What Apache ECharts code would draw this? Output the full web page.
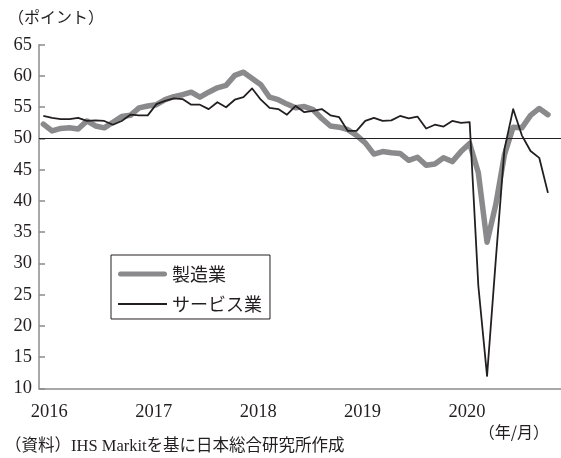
<!DOCTYPE html>
<html>
<head>
<meta charset="utf-8">
<script src="https://cdn.jsdelivr.net/npm/echarts@6/dist/echarts.min.js"></script>
<style>
html, body { margin: 0; padding: 0; background: #fff; }
#chart { width: 561px; height: 458px; }
</style>
</head>
<body>
<div id="chart"></div>
<script>
// 月次カテゴリ（2016/1〜2020/12）
var years = [2016, 2017, 2018, 2019, 2020];
var months = [];
years.forEach(function (y) {
  for (var m = 1; m <= 12; m++) months.push(y + '/' + m);
});

// 製造業（2016/1〜2020/11）
var seizogyo = [
  52.3, 51.2, 51.6, 51.7, 51.5, 52.8, 52.0, 51.7, 52.6, 53.5, 53.7, 54.9,
  55.2, 55.4, 56.2, 56.7, 57.0, 57.4, 56.6, 57.4, 58.1, 58.5, 60.1, 60.6,
  59.6, 58.6, 56.6, 56.2, 55.5, 54.9, 55.1, 54.6, 53.2, 52.0, 51.8, 51.4,
  50.5, 49.3, 47.5, 47.9, 47.7, 47.6, 46.5, 47.0, 45.7, 45.9, 46.9, 46.3,
  47.9, 49.2, 44.5, 33.4, 39.4, 47.4, 51.8, 51.7, 53.7, 54.8, 53.8
];

// サービス業（2016/1〜2020/11）
var service = [
  53.6, 53.3, 53.1, 53.1, 53.3, 52.8, 52.9, 52.8, 52.2, 52.8, 53.8, 53.7,
  53.7, 55.5, 56.0, 56.4, 56.3, 55.4, 55.4, 54.7, 55.8, 55.0, 56.2, 56.6,
  58.0, 56.2, 54.9, 54.7, 53.8, 55.2, 54.2, 54.4, 54.7, 53.7, 53.4, 51.2,
  51.2, 52.8, 53.3, 52.8, 52.9, 53.6, 53.2, 53.5, 51.6, 52.2, 51.9, 52.8,
  52.5, 52.6, 26.4, 12.0, 30.5, 48.3, 54.7, 50.5, 48.0, 46.9, 41.3
];

var ink = '#231f20';
var axisGray = '#8c8c8c';
var serif = '"Liberation Serif", "Noto Sans CJK JP", serif';

var yearStart = function (i) { return i % 12 === 0; };

var chart = echarts.init(document.getElementById('chart'));

var option = {
  animation: false,
  grid: { left: 39, top: 44.7, width: 523.2, height: 343.8 },
  xAxis: {
    type: 'category',
    data: months,
    boundaryGap: true,
    axisLine: { lineStyle: { color: axisGray, width: 1.5 } },
    axisTick: { interval: yearStart, length: 5, lineStyle: { color: axisGray, width: 1.5 } },
    axisLabel: {
      interval: yearStart,
      formatter: function (v) { return v.split('/')[0]; },
      margin: 14,
      padding: [0, 0, 0, 12],
      color: ink,
      fontFamily: serif,
      fontSize: 18.5
    }
  },
  yAxis: {
    type: 'value',
    min: 10,
    max: 65,
    interval: 5,
    axisLine: { show: true, lineStyle: { color: axisGray, width: 1.5 } },
    axisTick: { show: true, inside: true, length: 6, lineStyle: { color: axisGray, width: 1.5 } },
    splitLine: { show: false },
    axisLabel: { margin: 7, color: ink, fontFamily: serif, fontSize: 18.5 }
  },
  legend: {
    orient: 'vertical',
    left: 111,
    top: 255,
    padding: [10, 8, 6, 7],
    borderColor: ink,
    borderWidth: 1,
    itemWidth: 49,
    itemHeight: 16,
    itemGap: 12,
    itemStyle: { borderWidth: 0 },
    symbolKeepAspect: true,
    textStyle: { color: ink, fontSize: 18, fontFamily: '"Noto Sans CJK JP"' },
    data: [
      { name: '製造業', icon: 'path://M2.5,0H46.5A2.5,2.5 0 0 1 46.5,5H2.5A2.5,2.5 0 0 1 2.5,0Z' },
      { name: 'サービス業', icon: 'path://M0,0H49V2H0Z' }
    ]
  },
  graphic: [
    { type: 'text', left: 8, top: 9, style: { text: '（ポイント）', fill: ink, font: '16px "Noto Sans CJK JP"' } },
    { type: 'text', right: 12, top: 424, style: { text: '（年/月）', fill: ink, font: '16px "Noto Sans CJK JP"' } },
    { type: 'text', left: 5, top: 438, style: { text: '（資料）IHS Markitを基に日本総合研究所作成', fill: ink, font: '16.5px ' + serif } }
  ],
  series: [
    {
      name: '製造業',
      type: 'line',
      data: seizogyo,
      symbol: 'none',
      color: '#8a8a8c',
      lineStyle: { width: 5.5, color: '#8a8a8c', join: 'round', cap: 'round' }
    },
    {
      name: 'サービス業',
      type: 'line',
      data: service,
      symbol: 'none',
      color: ink,
      lineStyle: { width: 1.8, color: ink, join: 'round' },
      markLine: {
        silent: true,
        symbol: 'none',
        label: { show: false },
        lineStyle: { color: ink, width: 1.2, type: 'solid' },
        data: [{ yAxis: 50 }]
      }
    }
  ]
};

chart.setOption(option);
</script>
</body>
</html>
